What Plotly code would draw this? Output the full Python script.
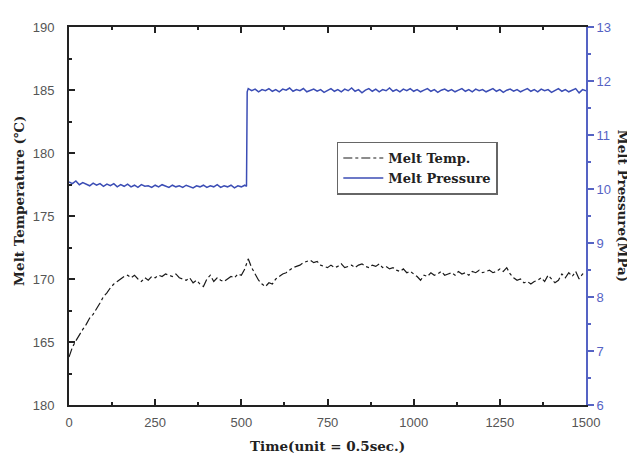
import plotly.graph_objects as go

# ---------------- data ----------------
temp_time = list(range(0, 1501, 10))
melt_temp = [
    163.8, 164.6, 165.1, 165.6, 166.0, 166.4, 166.9, 167.2, 167.6, 168.1,
    168.6, 168.9, 169.3, 169.6, 169.8, 170.0, 170.2, 170.3, 170.1, 170.3,
    170.0, 169.8, 170.1, 169.9, 170.2, 170.1, 170.3, 170.2, 170.4, 170.3,
    170.2, 170.4, 170.1, 170.0, 169.9, 170.1, 169.7, 169.9, 169.6, 169.4,
    170.0, 170.3, 169.8, 170.1, 169.9, 169.8, 170.0, 170.2, 170.1, 170.4,
    170.3, 170.8, 171.6, 170.9, 170.4, 169.9, 169.6, 169.4, 169.7, 169.6,
    170.0, 170.2, 170.4, 170.5, 170.7, 170.9, 171.0, 171.1, 171.3, 171.4,
    171.5, 171.3, 171.4, 171.1, 171.0, 170.9, 171.1, 170.9, 171.0, 171.2,
    170.9, 171.0, 171.1, 170.9, 171.1, 171.2, 171.0, 170.9, 171.1, 171.0,
    171.2, 170.9, 171.0, 170.8, 170.9, 170.7, 170.6, 170.8, 170.5, 170.6,
    170.4, 170.2, 169.9, 170.3, 170.2, 170.5, 170.3, 170.4, 170.6, 170.3,
    170.4, 170.5, 170.3, 170.6, 170.4, 170.5, 170.3, 170.6, 170.5, 170.7,
    170.5, 170.6, 170.7, 170.5, 170.6, 170.8, 170.6, 170.9, 170.4, 170.1,
    169.9, 170.0, 169.7, 169.8, 169.6, 169.8, 169.9, 170.1, 169.8, 170.3,
    170.0, 169.7, 169.9, 170.4, 170.1, 170.5, 170.2, 170.6, 170.0, 170.4,
    170.3,
]

press_time = list(range(0, 511, 10)) + [515, 517] + list(range(520, 1501, 10))
melt_pressure = [
    10.13, 10.10, 10.15, 10.08, 10.12, 10.09, 10.06, 10.11, 10.07, 10.10,
    10.05, 10.09, 10.06, 10.10, 10.04, 10.08, 10.05, 10.09, 10.04, 10.07,
    10.03, 10.08, 10.05, 10.06, 10.03, 10.07, 10.04, 10.08, 10.05, 10.03,
    10.07, 10.04, 10.06, 10.03, 10.07, 10.05, 10.02, 10.06, 10.04, 10.07,
    10.03, 10.06, 10.04, 10.08, 10.03, 10.06, 10.04, 10.07, 10.02, 10.06,
    10.04, 10.07,
    10.05, 11.80,
    11.86, 11.82, 11.85, 11.80, 11.84, 11.82, 11.86, 11.81, 11.84, 11.80,
    11.85, 11.83, 11.87, 11.81, 11.84, 11.82, 11.86, 11.80, 11.83, 11.85,
    11.81, 11.84, 11.79, 11.83, 11.86, 11.81, 11.84, 11.80, 11.85, 11.82,
    11.87, 11.81, 11.84, 11.78, 11.83, 11.86, 11.81, 11.85, 11.80, 11.84,
    11.82, 11.87, 11.81, 11.84, 11.80, 11.85, 11.82, 11.86, 11.81, 11.84,
    11.80, 11.83, 11.86, 11.81, 11.84, 11.79, 11.83, 11.85, 11.81, 11.84,
    11.80, 11.83, 11.86, 11.81, 11.84, 11.80, 11.85, 11.82, 11.84, 11.80,
    11.83, 11.86, 11.81, 11.84, 11.79, 11.83, 11.85, 11.81, 11.84, 11.80,
    11.83, 11.86, 11.81, 11.84, 11.80, 11.85, 11.82, 11.84, 11.79, 11.83,
    11.86, 11.81, 11.84, 11.80, 11.83, 11.86, 11.78, 11.84, 11.82,
]
assert len(temp_time) == len(melt_temp)
assert len(press_time) == len(melt_pressure), (len(press_time), len(melt_pressure))

x_ticks = [0, 250, 500, 750, 1000, 1250, 1500]
temp_ticks = [160, 165, 170, 175, 180, 185, 190]
temp_ticklabels = ["180", "165", "170", "175", "180", "185", "190"]
press_ticks = [6, 7, 8, 9, 10, 11, 12, 13]

# ---------------- styles ----------------
BLUE = "#3b4db5"
AXBLUE = "#5563c4"
SERIF = "DejaVu Serif"
SANS = "Liberation Sans"
TITLE_FONT = dict(family=SERIF, size=13.5, color="#222222", weight="bold")

fig = go.Figure()
fig.add_trace(go.Scatter(
    x=temp_time, y=melt_temp, name="Melt Temp.", mode="lines",
    line=dict(color="#1a1a1a", width=1.2, dash="dashdot"),
))
fig.add_trace(go.Scatter(
    x=press_time, y=melt_pressure, name="Melt Pressure", mode="lines",
    line=dict(color=BLUE, width=1.5), yaxis="y2",
))

# the page body adds an 8px offset, so margins are shifted by 8px
fig.update_layout(
    width=635, height=457,
    margin=dict(l=61, r=57, t=14, b=60),
    paper_bgcolor="white", plot_bgcolor="white",
    showlegend=True,
    legend=dict(
        x=0.518, y=0.697, xanchor="left", yanchor="top",
        bordercolor="#666666", borderwidth=1.5, bgcolor="white",
        font=dict(family=SERIF, size=13, color="#222222", weight="bold"),
        tracegroupgap=0, itemwidth=40, entrywidth=142,
    ),
    xaxis=dict(
        range=[0, 1500], tickvals=x_ticks, showgrid=False, zeroline=False,
        showline=True, linecolor="#222222", linewidth=2, mirror="ticks",
        ticks="inside", ticklen=6, tickwidth=1.5, tickcolor="#222222",
        minor=dict(dtick=125, tick0=0, ticks="inside", ticklen=3, tickcolor="#222222"),
        tickfont=dict(family=SANS, size=13, color="#555555"),
        ticklabelstandoff=4,
    ),
    yaxis=dict(
        range=[160, 190], tickvals=temp_ticks, ticktext=temp_ticklabels,
        showgrid=False, zeroline=False,
        showline=True, linecolor="#222222", linewidth=2, mirror=False,
        ticks="inside", ticklen=6, tickwidth=1.5, tickcolor="#222222",
        minor=dict(dtick=2.5, tick0=160, ticks="inside", ticklen=3, tickcolor="#222222"),
        tickfont=dict(family=SANS, size=13, color="#555555"),
        ticklabelstandoff=10,
    ),
    yaxis2=dict(
        range=[6, 13], tickvals=press_ticks, overlaying="y", side="right",
        showgrid=False, zeroline=False,
        showline=True, linecolor=AXBLUE, linewidth=2,
        ticks="outside", ticklen=6, tickwidth=1.5, tickcolor=AXBLUE,
        minor=dict(dtick=0.5, tick0=6, ticks="outside", ticklen=3, tickcolor=AXBLUE),
        tickfont=dict(family=SANS, size=13, color=AXBLUE),
    ),
    annotations=[
        dict(text="Time(unit = 0.5sec.)", xref="paper", yref="paper",
             x=0.5, y=-0.1097, xanchor="center", yanchor="middle", showarrow=False,
             font=TITLE_FONT),
        dict(text="Melt Temperature (℃)", xref="paper", yref="paper",
             x=-0.0967, y=0.540, xanchor="center", yanchor="middle", showarrow=False,
             textangle=-90, font=TITLE_FONT),
        dict(text="Melt Pressure(MPa)", xref="paper", yref="paper",
             x=1.0715, y=0.527, xanchor="center", yanchor="middle", showarrow=False,
             textangle=90, font=TITLE_FONT),
    ],
)

fig.write_html("out.html")
